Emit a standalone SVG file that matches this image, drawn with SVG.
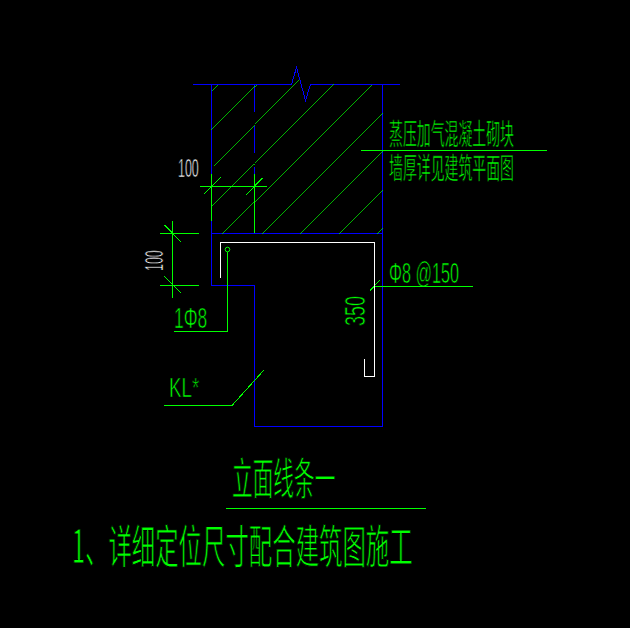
<svg xmlns="http://www.w3.org/2000/svg" width="630" height="628" viewBox="0 0 630 628">
<style>
.l{fill:none;stroke-width:1;shape-rendering:crispEdges}
.h{stroke-width:.7}
.b{stroke:#0000ff}
.g{stroke:#00ff00}
.w{stroke:#ffffff}
text{fill:#00ff00;stroke:#000000;stroke-width:.7;font-family:"Liberation Sans","Noto Sans CJK SC",sans-serif}
.c{font-family:"Noto Sans CJK SC","Liberation Sans",sans-serif}
.t{stroke-width:1}
.wt{fill:#ffffff}
</style>
<rect width="630" height="628" fill="#000000"/>
<g id="labels">
<text class="wt" transform="translate(178 177) scale(.48 1)" font-size="26">100</text>
<text class="wt" transform="translate(163 271) rotate(-90) scale(.48 1)" font-size="26">100</text>
<text transform="translate(174 328) scale(.6 1)" font-size="29">1Φ8</text>
<text transform="translate(169 397) scale(.67 1)" font-size="28">KL*</text>
<text transform="translate(365 326) rotate(-90) scale(.6 1)" font-size="30">350</text>
<text transform="translate(389 283) scale(.56 1)" font-size="29">Φ8 @150</text>
<text class="c" transform="translate(389 145) scale(.479 1)" font-size="29">蒸压加气混凝土砌块</text>
<text class="c" transform="translate(389 178.5) scale(.479 1)" font-size="29">墙厚详见建筑平面图</text>
<text class="c t" transform="translate(232 495) scale(.47 1)" font-size="44">立面线条一</text>
<text class="c t" transform="translate(72 563) scale(.509 1)" font-size="46">1、详细定位尺寸配合建筑图施工</text>
</g>
<g id="wall" class="l b">
<path d="M192.5 84.5H291.5L296.5 67.5L305.5 100.5L310.5 84.5H400"/>
<path d="M211.5 84.5V285.5H254.5V426.5H382.5V84.5"/>
<path d="M211.5 233.5H382.5"/>
<path d="M254.5 84.5V111.5M254.5 125.5V152.5M254.5 166.5V233.5"/>
</g>
<g id="hatch" class="l g h">
<path d="M211.5 90.5L218 84.5M211.5 129.5L256.5 84.5M213.5 165.5L299 80.5M211.5 205.5L334 84.5M222.5 233.5L371.5 84.5M261.5 233.5L382.5 112.5M299.5 233.5L382.5 150.5M338.5 233.5L382.5 189.5M376.5 233.5L382.5 227.5"/>
</g>
<g id="connectors" class="l g">
<path d="M199.5 186.5H266.5M211.5 174V220.5M254.5 174V233M203.5 194.5L220.5 177.5M245.5 195.5L262.5 178"/>
<path d="M172.5 221V297.5M160 233.5H199M160 285.5H199M164.5 225L181.5 242.5M164.5 276.5L181.5 293.5"/>
<path d="M227.5 251.5V331.5H174"/>
<path d="M164 405.5H232L263.5 370.5"/>
<path d="M375 286.5H472.5M370 290.5L380 280"/>
<path d="M361 150.5H546.5"/>
<path d="M226 508.5H426"/>
</g>
<g id="stirrup" class="l w">
<path d="M220.5 277.5V242.5H374.5V376.5H364.5V359"/>
</g>
<circle id="bar" cx="227.5" cy="249.5" r="2.3" fill="none" stroke="#00ff00"/>
</svg>
